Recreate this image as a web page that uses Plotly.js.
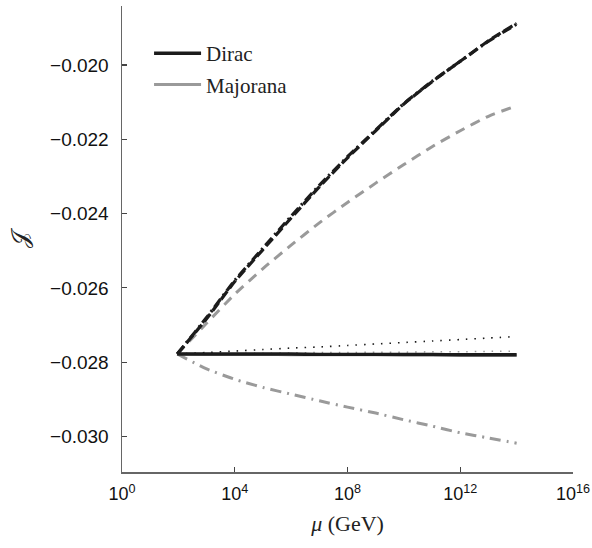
<!DOCTYPE html>
<html>
<head>
<meta charset="utf-8">
<script src="https://cdn.plot.ly/plotly-3.0.1.min.js"></script>
<style>html,body{margin:0;padding:0;background:#fff;}#chart{width:592px;height:548px;}</style>
</head>
<body>
<div id="chart"></div>
<script>
// renormalization scale mu (GeV)
const mu = [91.19, 1e3, 1e4, 1e5, 1e6, 1e7, 1e8, 1e9, 1e10, 1e11, 1e12, 1e13, 1e14];

// Dirac (black) curves
const diracSolid   = [-0.02778, -0.02778, -0.02778, -0.02778, -0.02778, -0.02779, -0.02779, -0.02779, -0.02779, -0.02779, -0.02780, -0.02780, -0.02780];
const diracDashed  = [-0.02778, -0.02683, -0.02583, -0.02497, -0.02412, -0.02328, -0.02250, -0.02177, -0.02105, -0.02045, -0.01990, -0.01935, -0.01888];
const diracDashDot = [-0.02778, -0.02680, -0.02580, -0.02493, -0.02407, -0.02324, -0.02247, -0.02175, -0.02104, -0.02044, -0.01990, -0.01936, -0.01890];
const diracDotted  = [-0.02778, -0.02774, -0.02770, -0.02766, -0.02762, -0.02759, -0.02755, -0.02751, -0.02747, -0.02743, -0.02739, -0.02735, -0.02731];

// Majorana (grey) curves
const majSolid   = [-0.02778, -0.02779, -0.02779, -0.02779, -0.02780, -0.02780, -0.02780, -0.02780, -0.02781, -0.02781, -0.02781, -0.02781, -0.02781];
const majDashed  = [-0.02778, -0.02695, -0.02617, -0.02548, -0.02485, -0.02425, -0.02370, -0.02318, -0.02268, -0.02220, -0.02177, -0.02138, -0.02110];
const majDotted  = [-0.02778, -0.02777, -0.02776, -0.02776, -0.02775, -0.02774, -0.02774, -0.02773, -0.02773, -0.02772, -0.02772, -0.02771, -0.02770];
const majDashDot = [-0.02778, -0.02818, -0.02846, -0.02868, -0.02886, -0.02904, -0.02921, -0.02937, -0.02955, -0.02972, -0.02990, -0.03004, -0.03018];

// axis ticks
const xTickVals = [1, 1e4, 1e8, 1e12, 1e16];
const xTickText = ['10<sup>0</sup>', '10<sup>4</sup>', '10<sup>8</sup>', '10<sup>12</sup>', '10<sup>16</sup>'];
const yTickVals = [-0.030, -0.028, -0.026, -0.024, -0.022, -0.020];
const yTickText = ['\u22120.030', '\u22120.028', '\u22120.026', '\u22120.024', '\u22120.022', '\u22120.020'];

const BLACK = '#1c1c1c';
const GREY = '#9a9a9a';

function tr(y, color, width, dash, name, show, rank) {
  return {
    x: mu, y: y, type: 'scatter', mode: 'lines',
    line: {color: color, width: width, dash: dash, shape: 'spline', smoothing: 0.6},
    name: name, showlegend: !!show, legendrank: rank || 1000, legendgroup: name + (show ? '' : 'x'),
    hoverinfo: 'skip'
  };
}

const data = [
  tr(majSolid, GREY, 3, 'solid', 'Majorana', true, 2),
  tr(majDashed, GREY, 3, '10px,7px', 'Majorana'),
  tr(majDotted, GREY, 1.5, '1.5px,7px', 'Majorana'),
  tr(majDashDot, GREY, 3, '11px,6px,2px,6px', 'Majorana'),
  tr(diracDashDot, BLACK, 3.2, '10px,4px,2px,4px', 'Dirac'),
  tr(diracDashed, BLACK, 3.2, '10px,4px', 'Dirac'),
  tr(diracDotted, BLACK, 1.6, '1.5px,7px', 'Dirac'),
  tr(diracSolid, BLACK, 3.4, 'solid', 'Dirac', true, 1)
];

const layout = {
  width: 592, height: 548,
  margin: {l: 122, r: 19, t: 6, b: 76},
  paper_bgcolor: '#fff', plot_bgcolor: '#fff',
  showlegend: true,
  legend: {
    x: 0.06, y: 0.942, xanchor: 'left', yanchor: 'top',
    bgcolor: 'rgba(0,0,0,0)', borderwidth: 0,
    font: {family: 'Liberation Serif, serif', size: 21, color: '#222'},
    tracegroupgap: 1, traceorder: 'grouped', itemwidth: 47
  },
  xaxis: {
    type: 'log', range: [0, 16],
    tickvals: xTickVals, ticktext: xTickText,
    ticks: 'inside', ticklen: 5, tickwidth: 1.2, tickcolor: '#444',
    showline: true, linecolor: '#666', linewidth: 1.5,
    showgrid: false, zeroline: false, mirror: false,
    tickfont: {family: 'Liberation Sans, Arial, sans-serif', size: 18, color: '#111'},
    ticklabeloverflow: 'allow', ticklabelstandoff: 5,
    title: {text: '<i>μ</i> (GeV)', font: {family: 'Liberation Serif, serif', size: 22, color: '#222'}, standoff: 12},
    automargin: false
  },
  yaxis: {
    range: [-0.030956, -0.018412],
    tickvals: yTickVals, ticktext: yTickText,
    ticks: 'inside', ticklen: 5, tickwidth: 1.2, tickcolor: '#444',
    showline: true, linecolor: '#666', linewidth: 1.5,
    showgrid: false, zeroline: false, mirror: false,
    tickfont: {family: 'Liberation Sans, Arial, sans-serif', size: 19, color: '#111'},
    ticklabelstandoff: 8,
    title: {text: '𝒥', font: {family: 'DejaVu Serif, DejaVu Sans, serif', size: 24, color: '#222'}, standoff: 14},
    automargin: false
  }
};

Plotly.newPlot('chart', data, layout, {displayModeBar: false, staticPlot: true});
</script>
</body>
</html>
